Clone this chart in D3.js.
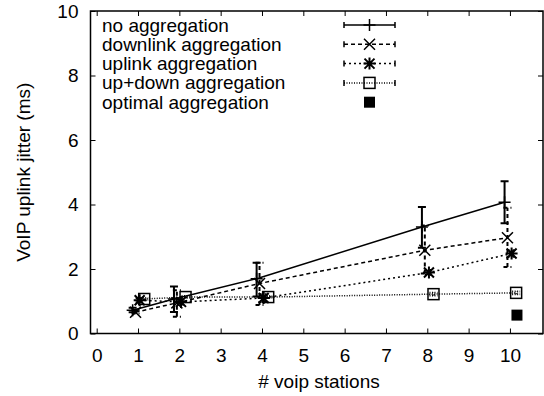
<!DOCTYPE html>
<html>
<head>
<meta charset="utf-8">
<script src="https://cdn.jsdelivr.net/npm/d3@7"></script>
<style>
  body { margin: 0; background: #fff; }
  text { font-family: "Liberation Sans", Arial, sans-serif; font-size: 19px; fill: #000; }
</style>
</head>
<body>
<div id="chart"></div>
<script>
// data
var stations = [1, 2, 4, 8, 10];

var noAgg    = [0.72, 1.07, 1.70, 3.30, 4.07];
var noAggLo  = [0.66, 0.67, 1.15, 2.66, 3.42];
var noAggHi  = [0.80, 1.46, 2.19, 3.92, 4.72];

var downAgg   = [0.66, 0.95, 1.55, 2.58, 2.97];
var downAggLo = [0.62, 0.52, 0.88, 1.86, 2.06];
var downAggHi = [0.72, 1.34, 2.19, 3.35, 3.90];

var upAgg   = [1.03, 0.98, 1.10, 1.89, 2.48];
var upAggLo = [0.97, 0.90, 0.98, 1.82, 2.38];
var upAggHi = [1.09, 1.06, 1.22, 1.97, 2.58];

var updownAgg   = [1.07, 1.13, 1.13, 1.22, 1.26];
var updownAggLo = [1.04, 1.10, 1.10, 1.18, 1.22];
var updownAggHi = [1.10, 1.16, 1.16, 1.26, 1.30];

var optStations = [10];
var optAgg = [0.57];

var xTicks = [0, 1, 2, 3, 4, 5, 6, 7, 8, 9, 10];
var yTicks = [0, 2, 4, 6, 8, 10];

var W = 544, H = 396;
var mLeft = 90.5, mRight = 543, mTop = 11, mBottom = 333.5;

var svg = d3.select("#chart").append("svg")
  .attr("width", W).attr("height", H);

var x = d3.scaleLinear().domain([-0.15, 10.8]).range([mLeft, mRight]);
var y = d3.scaleLinear().domain([0, 10]).range([mBottom, mTop]);

// axes, ticks inward on all sides
svg.append("g").attr("transform", "translate(0," + mBottom + ")")
  .call(d3.axisBottom(x).tickValues(xTicks).tickSize(-5).tickPadding(15))
  .call(function (g) { g.select(".domain").remove(); });
svg.append("g").attr("transform", "translate(0," + mTop + ")")
  .call(d3.axisTop(x).tickValues(xTicks).tickSize(-5).tickFormat(""))
  .call(function (g) { g.select(".domain").remove(); });
svg.append("g").attr("transform", "translate(" + mLeft + ",0)")
  .call(d3.axisLeft(y).tickValues(yTicks).tickSize(-5).tickPadding(12))
  .call(function (g) { g.select(".domain").remove(); });
svg.append("g").attr("transform", "translate(" + mRight + ",0)")
  .call(d3.axisRight(y).tickValues(yTicks).tickSize(-5).tickFormat(""))
  .call(function (g) { g.select(".domain").remove(); });

svg.selectAll(".tick line").attr("stroke", "#000").attr("stroke-width", 1);
svg.selectAll(".tick text").style("font-size", "19px")
  .style("font-family", "'Liberation Sans', Arial, sans-serif");

svg.append("rect")
  .attr("x", mLeft).attr("y", mTop)
  .attr("width", mRight - mLeft).attr("height", mBottom - mTop)
  .attr("fill", "none").attr("stroke", "#000").attr("stroke-width", 1.5);

// axis titles
svg.append("text")
  .attr("x", 319).attr("y", 388)
  .attr("text-anchor", "middle")
  .text("# voip stations");
svg.append("text")
  .attr("transform", "translate(30," + ((mTop + mBottom) / 2) + ") rotate(-90)")
  .attr("text-anchor", "middle")
  .text("VoIP uplink jitter (ms)");

// marker drawers
function drawPlus(g, cx, cy) {
  g.append("path").attr("d", "M" + (cx - 6) + "," + cy + "H" + (cx + 6) + "M" + cx + "," + (cy - 6) + "V" + (cy + 6))
    .attr("stroke", "#000").attr("stroke-width", 1.5).attr("fill", "none");
}
function drawCross(g, cx, cy) {
  var s = 5.5;
  g.append("path").attr("d", "M" + (cx - s) + "," + (cy - s) + "L" + (cx + s) + "," + (cy + s) +
    "M" + (cx - s) + "," + (cy + s) + "L" + (cx + s) + "," + (cy - s))
    .attr("stroke", "#000").attr("stroke-width", 1.5).attr("fill", "none");
}
function drawStar(g, cx, cy) {
  var s = 5;
  g.append("path").attr("d", "M" + (cx - s) + "," + (cy - s) + "L" + (cx + s) + "," + (cy + s) +
    "M" + (cx - s) + "," + (cy + s) + "L" + (cx + s) + "," + (cy - s) +
    "M" + (cx - 6) + "," + cy + "H" + (cx + 6) + "M" + cx + "," + (cy - 6) + "V" + (cy + 6))
    .attr("stroke", "#000").attr("stroke-width", 2).attr("fill", "none");
}
function drawBox(g, cx, cy) {
  g.append("rect").attr("x", cx - 5.5).attr("y", cy - 5.5).attr("width", 11).attr("height", 11)
    .attr("fill", "none").attr("stroke", "#000").attr("stroke-width", 1.5);
}
function drawFilled(g, cx, cy) {
  g.append("rect").attr("x", cx - 5.5).attr("y", cy - 5.5).attr("width", 11).attr("height", 11)
    .attr("fill", "#000");
}

var series = [
  { name: "no aggregation", v: noAgg, lo: noAggLo, hi: noAggHi, off: -0.13, dash: null, mark: drawPlus },
  { name: "downlink aggregation", v: downAgg, lo: downAggLo, hi: downAggHi, off: -0.06, dash: "4,3", mark: drawCross },
  { name: "uplink aggregation", v: upAgg, lo: upAggLo, hi: upAggHi, off: 0.04, dash: "2,3", mark: drawStar },
  { name: "up+down aggregation", v: updownAgg, lo: updownAggLo, hi: updownAggHi, off: 0.15, dash: "1,1.5", mark: drawBox }
];

var plot = svg.append("g");
var line = d3.line().x(function (d) { return x(d.s); }).y(function (d) { return y(d.v); });

series.forEach(function (sr) {
  var pts = stations.map(function (s, i) {
    return { s: s + sr.off, v: sr.v[i], lo: sr.lo[i], hi: sr.hi[i] };
  });
  plot.append("path").datum(pts)
    .attr("d", line)
    .attr("fill", "none").attr("stroke", "#000").attr("stroke-width", 1.5)
    .attr("stroke-dasharray", sr.dash);
  pts.forEach(function (p) {
    var cx = x(p.s);
    plot.append("path")
      .attr("d", "M" + cx + "," + y(p.lo) + "V" + y(p.hi) +
        "M" + (cx - 4) + "," + y(p.lo) + "H" + (cx + 4) +
        "M" + (cx - 4) + "," + y(p.hi) + "H" + (cx + 4))
      .attr("fill", "none").attr("stroke", "#000").attr("stroke-width", 2)
      .attr("stroke-dasharray", sr.dash);
    sr.mark(plot, cx, y(p.v));
  });
});

optStations.forEach(function (s, i) {
  drawFilled(plot, x(s + 0.17), y(optAgg[i]));
});

// legend
var legend = svg.append("g");
var rowY = [25, 44.3, 63.6, 82.9, 102.2];
series.forEach(function (sr, i) {
  legend.append("text").attr("x", 102).attr("y", rowY[i] + 6.5).text(sr.name);
  legend.append("path")
    .attr("d", "M344," + rowY[i] + "H395")
    .attr("stroke", "#000").attr("stroke-width", 1.5).attr("fill", "none")
    .attr("stroke-dasharray", sr.dash);
  legend.append("path")
    .attr("d", "M344," + (rowY[i] - 3) + "V" + (rowY[i] + 3) + "M395," + (rowY[i] - 3) + "V" + (rowY[i] + 3))
    .attr("stroke", "#000").attr("stroke-width", 1.5);
  sr.mark(legend, 369.5, rowY[i]);
});
legend.append("text").attr("x", 102).attr("y", rowY[4] + 6.5).text("optimal aggregation");
drawFilled(legend, 369.5, rowY[4]);
</script>
</body>
</html>
